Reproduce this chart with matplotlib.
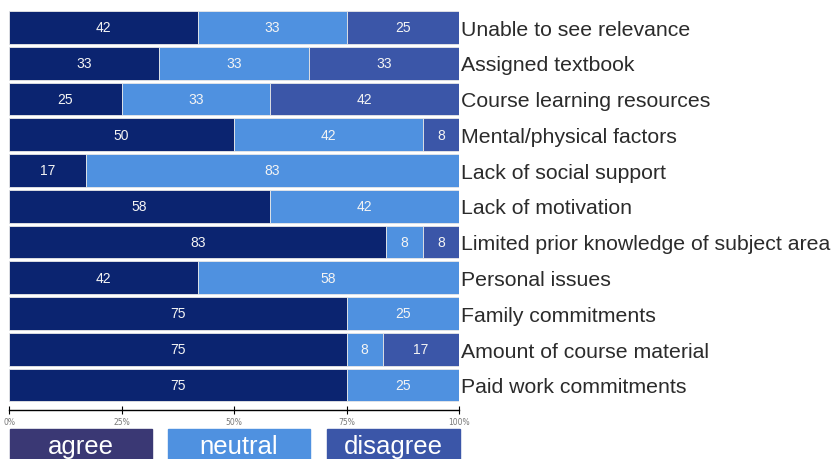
import matplotlib.pyplot as plt
import numpy as np
from matplotlib.patches import Rectangle

categories = ["Unable to see relevance", "Assigned textbook", "Course learning resources",
              "Mental/physical factors", "Lack of social support", "Lack of motivation",
              "Limited prior knowledge of subject area", "Personal issues",
              "Family commitments", "Amount of course material", "Paid work commitments"]
agree    = np.array([42, 33, 25, 50, 17, 58, 83, 42, 75, 75, 75])
neutral  = np.array([33, 33, 33, 42, 83, 42,  8, 58, 25,  8, 25])
disagree = np.array([25, 33, 42,  8,  0,  0,  8,  0,  0, 17,  0])
series_names = ["agree", "neutral", "disagree"]
tick_labels = ["0%", "25%", "50%", "75%", "100%"]

colors = ["#0b2470", "#4f91e0", "#3b56a8"]
legend_colors = ["#3a3874", "#4f91e0", "#3b56a8"]

fig = plt.figure(figsize=(8.34, 4.6), dpi=100)
ax = fig.add_axes([9/834, 1-411/460, 450/834, 399/460])

total = agree + neutral + disagree
y = np.arange(len(categories))
left = np.zeros(len(categories))
for vals, c in zip([agree, neutral, disagree], colors):
    w = vals / total
    ax.barh(y, w, left=left, height=0.92, color=c, edgecolor="#e8e8e8", linewidth=0.6)
    for yi, (l, wi, v) in enumerate(zip(left, w, vals)):
        if v > 0:
            ax.text(l + wi / 2, yi, str(v), ha="center", va="center",
                    color="#f4f4f4", fontsize=10, family="Liberation Sans")
    left = left + w

for yi, cat in enumerate(categories):
    ax.text(1.004, yi + 0.05, cat, ha="left", va="center", color="#2b2b2b",
            fontsize=15.3, family="Liberation Sans", clip_on=False)

ax.set_xlim(0, 1)
ax.set_ylim(10.7, -0.46)
ax.set_xticks([0, 0.25, 0.5, 0.75, 1.0])
ax.set_xticklabels(tick_labels, fontsize=5.5, color="#777777")
ax.tick_params(axis="x", direction="inout", length=6, width=0.8, pad=2)
ax.set_yticks([])
for s in ["top", "right", "left"]:
    ax.spines[s].set_visible(False)
ax.spines["bottom"].set_linewidth(1.0)

# legend boxes along the bottom
boxes = [(10, 152), (168, 310), (327, 460)]
for (x0, x1), name, c in zip(boxes, series_names, legend_colors):
    fig.patches.append(Rectangle((x0/834, 0), (x1-x0)/834, 30/460,
                                 transform=fig.transFigure, color=c))
    fig.text((x0+x1)/2/834, 13/460, name, ha="center", va="center",
             color="white", fontsize=18.5, family="Liberation Sans")

fig.savefig("out.png", dpi=100)
